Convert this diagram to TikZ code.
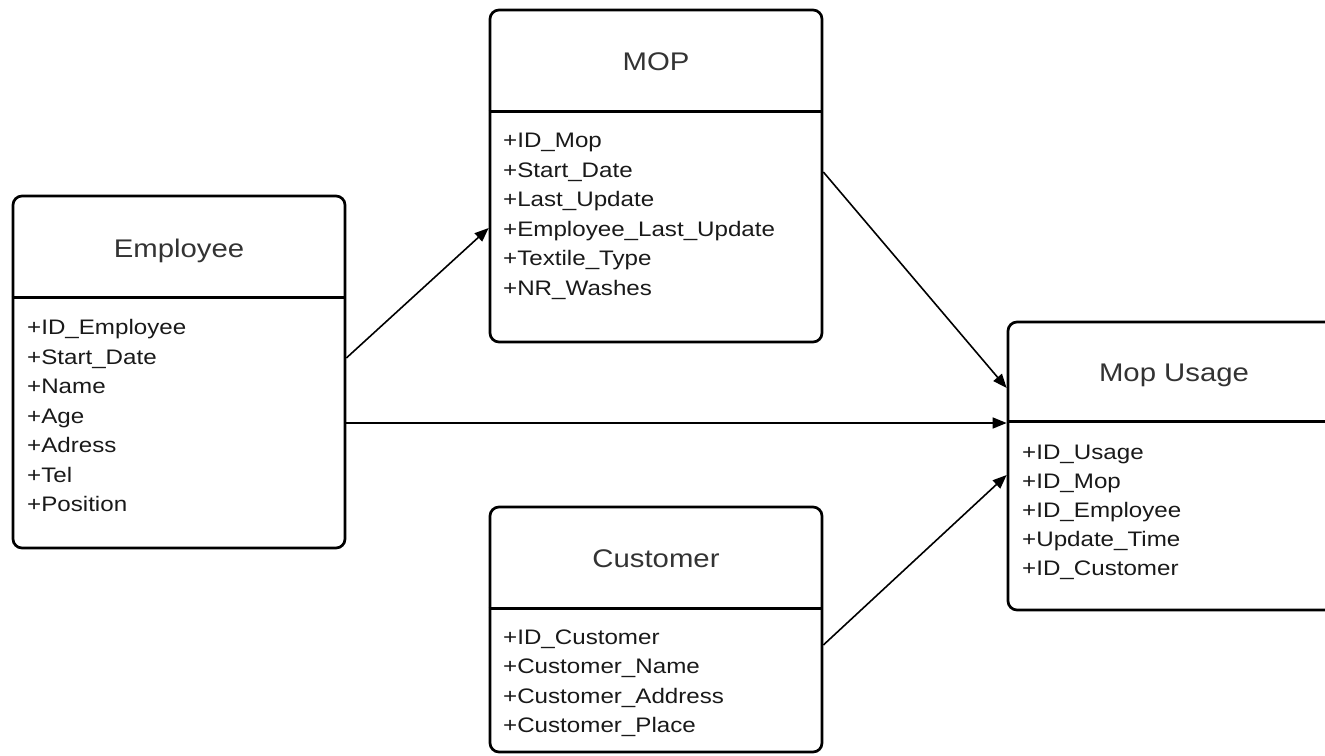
\documentclass[tikz,border=0pt]{standalone}
\usepackage{fontspec}
\setmainfont{Liberation Sans}[FakeStretch=1.15]
\usetikzlibrary{arrows.meta,calc}
\begin{document}
\begin{tikzpicture}[x=1pt,y=-1pt,
  cls/.style={draw=black, line width=2.7pt, rounded corners=9pt, minimum width=332pt, inner sep=0pt},
  ttl/.style={anchor=base, inner sep=0pt, text=black!80, font=\fontsize{25.5}{30}\selectfont},
  attr/.style={anchor=base west, inner sep=0pt, text=black!90, font=\fontsize{21}{25}\selectfont},
  div/.style={line width=2.7pt},
  conn/.style={line width=1.6pt, -{Triangle[length=14pt,width=11pt]}}]
\useasboundingbox (0,0) rectangle (1325,755);
\clip (0,0) rectangle (1325,755);
% boxes
\node[cls, minimum height=352pt] (emp) at (179,372) {};
\node[cls, minimum height=332pt] (mop) at (656,176) {};
\node[cls, minimum height=288pt] (use) at (1174,466) {};
\node[cls, minimum height=245pt] (cus) at (656,629.5) {};
% dividers
\draw[div] ([yshift=-103pt]emp.north west) -- ([yshift=-103pt]emp.north east);
\draw[div] ([yshift=-103pt]mop.north west) -- ([yshift=-103pt]mop.north east);
\draw[div] ([yshift=-101pt]use.north west) -- ([yshift=-101pt]use.north east);
\draw[div] ([yshift=-103pt]cus.north west) -- ([yshift=-103pt]cus.north east);
% titles
\node[ttl] (empt) at (179,257) {Employee};
\node[ttl] (mopt) at (656,70) {MOP};
\node[ttl] (uset) at (1174,381) {Mop Usage};
\node[ttl] (cust) at (656,567) {Customer};
% attributes
\foreach \t [count=\i from 0] in {+ID\_Employee,+Start\_Date,+Name,+Age,+Adress,+Tel,+Position}
  \node[attr] (empa\i) at (27,334.5+29.5*\i) {\t};
\foreach \t [count=\i from 0] in {+ID\_Mop,+Start\_Date,+Last\_Update,+Employee\_Last\_Update,+Textile\_Type,+NR\_Washes}
  \node[attr] (mopa\i) at (503,147.5+29.6*\i) {\t};
\foreach \t [count=\i from 0] in {+ID\_Usage,+ID\_Mop,+ID\_Employee,+Update\_Time,+ID\_Customer}
  \node[attr] (usea\i) at (1022,459.5+29.1*\i) {\t};
\foreach \t [count=\i from 0] in {+ID\_Customer,+Customer\_Name,+Customer\_Address,+Customer\_Place}
  \node[attr] (cusa\i) at (503,644.5+29.3*\i) {\t};
% connectors
\draw[conn] ([yshift=14pt]emp.east) -- ([yshift=-52pt]mop.west);
\draw[conn] ([yshift=-51pt]emp.east) -- ([yshift=43pt]use.west);
\draw[conn] ([yshift=4pt]mop.east) -- ([yshift=78pt]use.west);
\draw[conn] ([yshift=-15.5pt]cus.east) -- ([yshift=-9pt]use.west);
\end{tikzpicture}
\end{document}
